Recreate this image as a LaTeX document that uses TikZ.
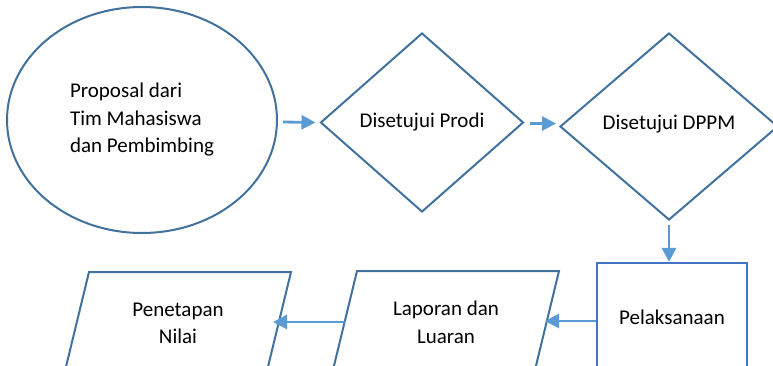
\documentclass[tikz,border=0pt]{standalone}
\usepackage{fontspec}
\setmainfont{Carlito}
\usetikzlibrary{shapes.geometric,arrows.meta}
\definecolor{shapeblue}{HTML}{41719C}
\definecolor{rectblue}{HTML}{4472C4}
\definecolor{arrowblue}{HTML}{5B9BD5}
\begin{document}
\begin{tikzpicture}[x=1pt,y=-1pt,
  txt/.style={font=\fontsize{21}{27.5}\selectfont, text=black},
  outline/.style={draw=shapeblue, line width=2pt},
  arr/.style={draw=arrowblue, line width=2.8pt, -{Triangle[length=14pt,width=14pt]}},
]
\useasboundingbox (0,0) rectangle (773,366);
% start ellipse
\node[outline, ellipse, minimum width=270pt, minimum height=226pt, inner sep=0pt, txt] (E) at (142,120) {\raisebox{-6pt}{\begin{tabular}{@{}l@{}}Proposal dari\\Tim Mahasiswa\\dan Pembimbing\end{tabular}}};
% decisions
\node[outline, diamond, minimum width=203pt, minimum height=179pt, inner sep=0pt, txt] (D1) at (422,122.5) {Disetujui Prodi};
\node[outline, diamond, minimum width=218pt, minimum height=187pt, inner sep=0pt, txt] (D2) at (669,126.5) {\raisebox{8pt}{Disetujui DPPM}};
% process box
\node[draw=rectblue, line width=2.2pt, minimum width=150pt, minimum height=110pt, inner sep=0pt, txt] (R) at (672,318) {\raisebox{2pt}{Pelaksanaan}};
% parallelograms
\draw[outline] (357,271) -- (559,271) -- (534,374) -- (332,374) -- cycle;
\node[txt, align=center] (L) at (446,322.5) {Laporan dan\\Luaran};
\draw[outline] (89,272) -- (291,272) -- (266,375) -- (64,375) -- cycle;
\node[txt, align=center] (P) at (178,323.5) {Penetapan\\Nilai};
\coordinate (Lin) at (545,321);
\coordinate (Lout) at (345,322);
\coordinate (Pin) at (273,322);
% connectors
\draw[arr] ([xshift=5pt,yshift=-2pt]E.east) -- ([xshift=-4pt]D1.west);
\draw[arr] ([xshift=5pt,yshift=-1pt]D1.east) -- ([xshift=-3pt,yshift=3pt]D2.west);
\draw[arr] ([yshift=-4pt]D2.south) -- (D2.south |- R.north);
\draw[arr] ([yshift=-3pt]R.west) -- (Lin);
\draw[arr] (Lout) -- (Pin);
\end{tikzpicture}
\end{document}
